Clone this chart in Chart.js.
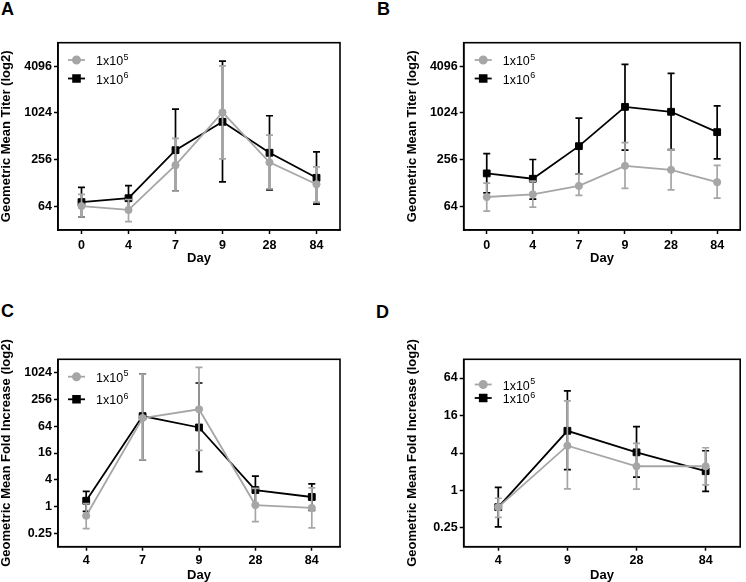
<!DOCTYPE html>
<html>
<head>
<meta charset="utf-8">
<title>Geometric mean titers</title>
<script src="https://cdn.jsdelivr.net/npm/chart.js@4.4.0/dist/chart.umd.min.js"></script>
<style>
  body { margin: 0; background: #fff; width: 746px; height: 582px; position: relative; overflow: hidden;
         font-family: "Liberation Sans", Arial, sans-serif; }
  canvas { position: absolute; }
  .letter { position: absolute; font-weight: bold; font-size: 18px; line-height: 1; }
</style>
</head>
<body>
<div class="letter" style="left:1px;top:0px">A</div>
<div class="letter" style="left:377px;top:0px">B</div>
<div class="letter" style="left:1px;top:302px">C</div>
<div class="letter" style="left:376px;top:303px">D</div>
<canvas id="chartA" width="373" height="290" style="left:0;top:0"></canvas>
<canvas id="chartB" width="373" height="290" style="left:373px;top:0"></canvas>
<canvas id="chartC" width="373" height="292" style="left:0;top:290px"></canvas>
<canvas id="chartD" width="373" height="292" style="left:373px;top:290px"></canvas>
<script>
// ---- data ----
const seriesNames = ["1x10^5", "1x10^6"];
const daysAB = ["0", "4", "7", "9", "28", "84"];
const daysC = ["4", "7", "9", "28", "84"];
const daysD = ["4", "9", "28", "84"];
const titerTicks = [64, 256, 1024, 4096];
const foldTicksC = [0.25, 1, 4, 16, 64, 256, 1024];
const foldTicksD = [0.25, 1, 4, 16, 64];

// A: geometric mean titer
const aLowMean = [65, 58, 218, 1040, 237, 124];
const aLowErrLo = [47, 41, 101, 263, 108, 73];
const aLowErrHi = [92, 79, 481, 4120, 530, 208];
const aHighMean = [73, 82, 340, 787, 315, 150];
const aHighErrLo = [47, 57, 101, 133, 105, 69];
const aHighErrHi = [113, 119, 1144, 4737, 942, 324];

// B: geometric mean titer
const bLowMean = [85, 92, 118, 214, 190, 132];
const bLowErrLo = [56, 63, 89, 110, 105, 82];
const bLowErrHi = [128, 136, 168, 425, 345, 217];
const bHighMean = [171, 146, 383, 1226, 1060, 580];
const bHighErrLo = [96, 80, 168, 340, 345, 263];
const bHighErrHi = [307, 258, 879, 4300, 3300, 1261];

// C: geometric mean fold increase
const cLowMean = [0.62, 98, 154, 1.08, 0.93];
const cLowErrLo = [0.32, 11.2, 18.3, 0.46, 0.33];
const cLowErrHi = [1.16, 955, 1351, 2.55, 2.64];
const cHighMean = [1.35, 108, 60, 2.35, 1.64];
const cHighErrLo = [0.78, 11.2, 6.1, 1.14, 0.82];
const cHighErrHi = [2.19, 955, 600, 4.82, 3.25];

// D: geometric mean fold increase
const dLowMean = [0.54, 5.24, 2.45, 2.45];
const dLowErrLo = [0.37, 1.06, 1.05, 1.23];
const dLowErrHi = [0.75, 27.5, 5.7, 4.86];
const dHighMean = [0.54, 9.1, 4.1, 2.04];
const dHighErrLo = [0.26, 2.17, 1.64, 0.97];
const dHighErrHi = [1.12, 39.7, 10.6, 4.35];

const GRAY = "#a6a6a6";
const BLACK = "#000000";
const FONT = "'Liberation Sans', Arial, sans-serif";

Chart.defaults.font.family = FONT;
Chart.defaults.color = "#000";

// vertical error bars with caps, drawn under each dataset's line
const errorBars = {
  id: "errorBars",
  beforeDatasetDraw(chart, args) {
    const ds = chart.data.datasets[args.index];
    const y = chart.scales.y;
    const ctx = chart.ctx;
    ctx.save();
    ctx.strokeStyle = ds.borderColor;
    ctx.lineWidth = 1.7;
    args.meta.data.forEach((pt, i) => {
      const top = y.getPixelForValue(ds.errHi[i]);
      const bot = y.getPixelForValue(ds.errLo[i]);
      ctx.beginPath();
      ctx.moveTo(pt.x, top);
      ctx.lineTo(pt.x, bot);
      ctx.moveTo(pt.x - 3.5, top);
      ctx.lineTo(pt.x + 3.5, top);
      ctx.moveTo(pt.x - 3.5, bot);
      ctx.lineTo(pt.x + 3.5, bot);
      ctx.stroke();
    });
    ctx.restore();
  },
};

// full box around the plot + the small legend in the top left corner
const frameLegend = {
  id: "frameLegend",
  afterDraw(chart, args, opts) {
    const ctx = chart.ctx;
    const a = chart.chartArea;
    ctx.save();
    ctx.strokeStyle = "#000";
    ctx.lineWidth = 1.6;
    ctx.strokeRect(a.left, a.top, a.right - a.left, a.bottom - a.top);

    chart.data.datasets.forEach((ds, i) => {
      const y = opts.rows[i];
      ctx.strokeStyle = ds.borderColor;
      ctx.fillStyle = ds.borderColor;
      ctx.lineWidth = 1.8;
      ctx.beginPath();
      ctx.moveTo(opts.x, y);
      ctx.lineTo(opts.x + 17, y);
      ctx.stroke();
      Chart.helpers.drawPoint(ctx, { pointStyle: ds.pointStyle, radius: ds.pointRadius, borderWidth: 1 }, opts.x + 8.5, y);

      const [base, exp] = ds.label.split("^");
      ctx.fillStyle = "#000";
      ctx.textBaseline = "alphabetic";
      ctx.font = "12.5px " + FONT;
      ctx.fillText(base, opts.x + 28, y + 5);
      const w = ctx.measureText(base).width;
      ctx.font = "9px " + FONT;
      ctx.fillText(exp, opts.x + 28 + w + 0.5, y - 0.5);
    });
    ctx.restore();
  },
};

function series(label, mean, lo, hi, color, style, radius) {
  return {
    label: label,
    data: mean,
    errLo: lo,
    errHi: hi,
    borderColor: color,
    backgroundColor: color,
    borderWidth: 1.8,
    pointStyle: style,
    pointRadius: radius,
    pointHoverRadius: radius,
    pointBackgroundColor: color,
    pointBorderColor: color,
    pointBorderWidth: 1,
    tension: 0,
    fill: false,
  };
}

function makeChart(id, p) {
  new Chart(document.getElementById(id), {
    type: "line",
    data: {
      labels: p.labels,
      datasets: [
        series(seriesNames[0], p.low[0], p.low[1], p.low[2], GRAY, "circle", 3.6),
        series(seriesNames[1], p.high[0], p.high[1], p.high[2], BLACK, "rect", 4.8),
      ],
    },
    options: {
      responsive: false,
      animation: false,
      devicePixelRatio: 1,
      layout: { padding: { left: p.padL, right: p.padR, top: p.padT, bottom: 0 } },
      plugins: {
        legend: { display: false },
        tooltip: { enabled: false },
        frameLegend: { x: p.legX, rows: p.legRows },
      },
      scales: {
        x: {
          type: "category",
          offset: true,
          grid: { offset: false, drawOnChartArea: false, tickLength: 4, tickWidth: 1.5, tickColor: "#000" },
          border: { color: "#000", width: 1.6 },
          ticks: { font: { size: 12.5, weight: "bold" }, padding: p.xTickPad, maxRotation: 0 },
          title: { display: true, text: "Day", font: { size: 13, weight: "bold", lineHeight: 1 }, padding: { top: 0, bottom: p.xTitlePad } },
          afterFit: (s) => { s.height = p.xHeight; },
        },
        y: {
          type: "logarithmic",
          min: p.yMin,
          max: p.yMax,
          grid: { drawOnChartArea: false, tickLength: 4, tickWidth: 1.5, tickColor: "#000" },
          border: { color: "#000", width: 1.6 },
          ticks: { font: { size: 12.5, weight: "bold" }, padding: 2, callback: (v) => String(v) },
          afterBuildTicks: (s) => { s.ticks = p.yTicks.map((v) => ({ value: v })); },
          title: { display: true, text: p.yTitle, font: { size: 13, weight: "bold", lineHeight: 1 }, padding: 0 },
          afterFit: (s) => { s.width = 58; },
        },
      },
    },
    plugins: [errorBars, frameLegend],
  });
}

makeChart("chartA", {
  labels: daysAB, yTicks: titerTicks, yMin: 32, yMax: 8192, yTitle: "Geometric Mean Titer (log2)",
  low: [aLowMean, aLowErrLo, aLowErrHi], high: [aHighMean, aHighErrLo, aHighErrHi],
  padL: 0, padR: 33, padT: 42.7, xHeight: 60, xTickPad: 4, xTitlePad: 25,
  legX: 68, legRows: [60, 78.5],
});

makeChart("chartB", {
  labels: daysAB, yTicks: titerTicks, yMin: 32, yMax: 8192, yTitle: "Geometric Mean Titer (log2)",
  low: [bLowMean, bLowErrLo, bLowErrHi], high: [bHighMean, bHighErrLo, bHighErrHi],
  padL: 32.7, padR: 1.3, padT: 42.7, xHeight: 60, xTickPad: 4, xTitlePad: 25,
  legX: 101.7, legRows: [60, 78.5],
});

makeChart("chartC", {
  labels: daysC, yTicks: foldTicksC, yMin: 0.125, yMax: 2048, yTitle: "Geometric Mean Fold Increase (log2)",
  low: [cLowMean, cLowErrLo, cLowErrHi], high: [cHighMean, cHighErrLo, cHighErrHi],
  padL: 0, padR: 33, padT: 69.3, xHeight: 35.3, xTickPad: 2, xTitlePad: 0,
  legX: 68, legRows: [86.7, 109.3],
});

makeChart("chartD", {
  labels: daysD, yTicks: foldTicksD, yMin: 0.125, yMax: 128, yTitle: "Geometric Mean Fold Increase (log2)",
  low: [dLowMean, dLowErrLo, dLowErrHi], high: [dHighMean, dHighErrLo, dHighErrHi],
  padL: 32.7, padR: 1.3, padT: 69.3, xHeight: 35.3, xTickPad: 2, xTitlePad: 0,
  legX: 101.7, legRows: [94.5, 108],
});
</script>
</body>
</html>
